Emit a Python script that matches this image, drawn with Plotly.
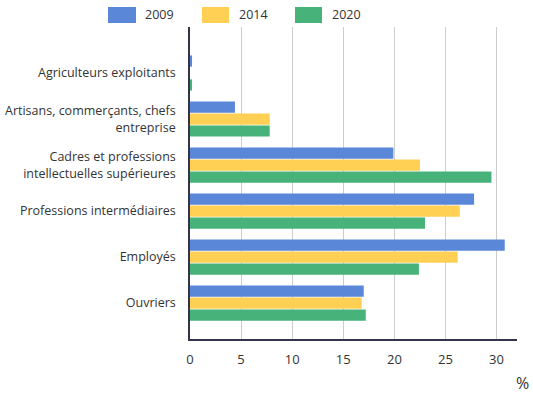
import plotly.graph_objects as go

categories = [
    "Agriculteurs exploitants",
    "Artisans, commerçants, chefs<br>entreprise",
    "Cadres et professions<br>intellectuelles supérieures",
    "Professions intermédiaires",
    "Employés",
    "Ouvriers",
]
years = ["2009", "2014", "2020"]
v2009 = [0.2, 4.4, 19.9, 27.8, 30.8, 17.0]
v2014 = [0.0, 7.8, 22.5, 26.4, 26.2, 16.8]
v2020 = [0.2, 7.8, 29.5, 23.0, 22.4, 17.2]
x_ticks = [0, 5, 10, 15, 20, 25, 30]

colors = ["#5a87d7", "#ffd054", "#47b27a"]
series = [v2009, v2014, v2020]

W, H = 533, 393
L, R, T, B = 190, 16, 27, 54
PW, PH = W - L - R, H - T - B

def px_x(p):
    return (p - L) / PW

def px_y(p):
    return 1 - (p - T) / PH

fig = go.Figure()
for name, vals, c in zip(years, series, colors):
    fig.add_trace(go.Bar(
        y=categories, x=vals, name=name, orientation="h",
        marker=dict(color=c, line=dict(width=0)), showlegend=False,
    ))

font = "Open Sans, sans-serif"
fig.update_layout(
    width=W, height=H,
    margin=dict(l=L, r=R, t=T, b=B, autoexpand=False),
    paper_bgcolor="white", plot_bgcolor="white",
    barmode="group", bargap=0.22, bargroupgap=0.06,
    font=dict(family=font, size=12.5, color="#333333"),
    xaxis=dict(
        range=[0, 32], tickvals=x_ticks, ticks="",
        showgrid=True, gridcolor="#cccccc", gridwidth=1,
        showline=True, linecolor="#33334a", linewidth=1.5,
        zeroline=False, tickfont=dict(size=13, color="#333"),
        ticklabelstandoff=8, automargin=False,
    ),
    yaxis=dict(
        type="category", categoryarray=categories,
        range=[5.78, -1.0], ticks="", showgrid=False,
        showline=True, linecolor="#33334a", linewidth=1.5,
        tickfont=dict(size=12.5, color="#333"), ticklabelstandoff=10,
        automargin=False,
    ),
)

# custom legend (large rectangles)
leg = [(108, 136, 143), (202, 229, 237), (295, 322, 330)]
for (x0, x1, tx), name, c in zip(leg, years, colors):
    fig.add_shape(type="rect", xref="paper", yref="paper",
                  x0=px_x(x0), x1=px_x(x1), y0=px_y(23), y1=px_y(7),
                  fillcolor=c, line=dict(width=0))
    fig.add_annotation(xref="paper", yref="paper", x=px_x(tx), y=px_y(15),
                       text=name, showarrow=False, xanchor="left", yanchor="middle",
                       font=dict(size=12.5, color="#333"))

fig.add_annotation(xref="paper", yref="paper", x=px_x(522), y=px_y(383),
                   text="%", showarrow=False, xanchor="center", yanchor="middle",
                   font=dict(size=16, color="#333"))

fig.write_html("out.html", config={"displayModeBar": False},
               post_script="document.body.style.margin='0';")
